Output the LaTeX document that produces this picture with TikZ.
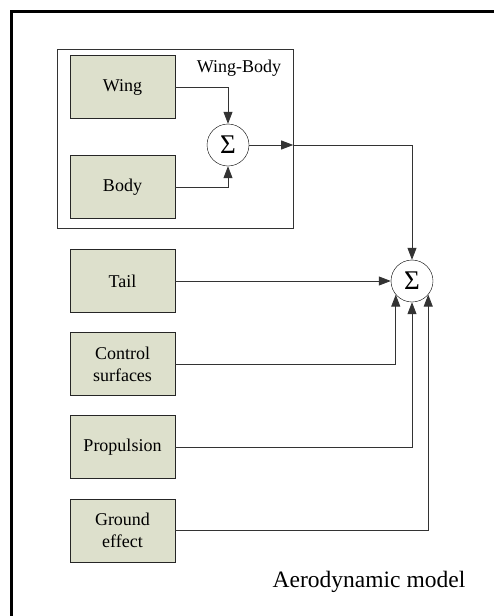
\documentclass[tikz,border=0pt]{standalone}
\usepackage{fontspec}
\setmainfont{Liberation Serif}
\usepackage{xcolor}
\usepackage{tikz}
\usetikzlibrary{arrows.meta,positioning}

\definecolor{blockfill}{RGB}{221,224,204}

\begin{document}
\begin{tikzpicture}[
    x=1pt, y=-1pt,
    block/.style={
        rectangle,
        draw=black!85,
        fill=blockfill,
        minimum width=105pt,
        minimum height=63pt,
        align=center,
        font=\fontsize{18}{22}\selectfont
    },
    summer/.style={
        circle,
        draw=black,
        fill=white,
        minimum size=42pt,
        inner sep=0pt,
        font=\fontsize{27}{27}\selectfont
    },
    arrow/.style={
        draw=black!80,
        line width=0.8pt,
        -{Triangle[length=12pt,width=9pt]}
    }
]
\useasboundingbox (0,0) rectangle (494,616);
\clip (0,0) rectangle (494,616);

% Cadrul exterior
\draw[line width=3pt] (11.5,640) -- (11.5,11.5) -- (520,11.5);

% Grupul Wing-Body
\node[draw=black!80, minimum width=236pt, minimum height=179pt, inner sep=0pt] (wb) at (175,138.5) {};
\node[font=\fontsize{18}{20}\selectfont] (wblabel) at (239,68) {Wing-Body};

\node[block] (wing) at (122.5,87) {Wing};
\node[block] (body) at (122.5,187) {Body};
\node[summer] (sum1) at (228,145) {Σ};

% Blocurile de intrare
\node[block] (tail) at (122.5,281) {Tail};
\node[block] (ctrl) at (122.5,364) {Control\\surfaces};
\node[block] (prop) at (122.5,447) {Propulsion};
\node[block] (ground) at (122.5,530.5) {Ground\\effect};

\node[summer] (sum2) at (412,281) {Σ};

\node[font=\fontsize{23.5}{26}\selectfont] (title) at (369,582) {Aerodynamic model};

% Sumatorul Wing-Body
\draw[arrow] (wing.east) -| (sum1.north);
\draw[arrow] (body.east) -| (sum1.south);
\draw[arrow] (sum1.east) -- (sum1.east -| wb.east);
\draw[arrow] (sum1.east -| wb.east) -| (sum2.north);

% Sumatorul principal
\draw[arrow] (tail.east) -- (sum2.west);
\draw[arrow] (ctrl.east) -| (sum2.-140);
\draw[arrow] (prop.east) -| (sum2.south);
\draw[arrow] (ground.east) -| (sum2.-40);

\end{tikzpicture}
\end{document}
